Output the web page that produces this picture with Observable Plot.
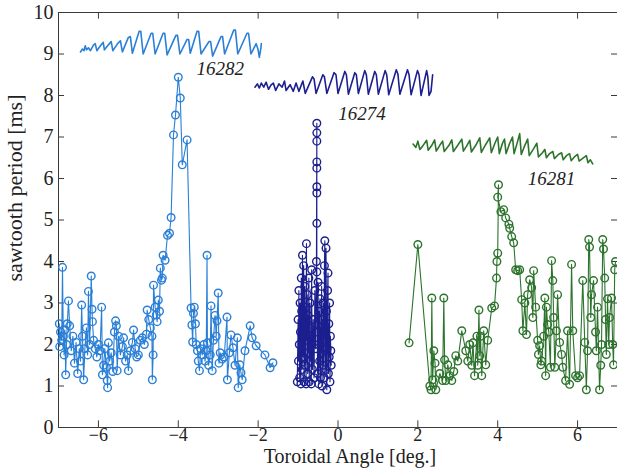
<!DOCTYPE html>
<html>
<head>
<meta charset="utf-8">
<script src="https://cdn.jsdelivr.net/npm/d3@7"></script>
<script src="https://cdn.jsdelivr.net/npm/@observablehq/plot@0.6"></script>
<style>
  html, body { margin: 0; padding: 0; background: #fff; }
</style>
</head>
<body>
<div id="chart"></div>
<script>
// ---- Data (toroidal angle [deg], sawtooth period [ms]) ----
const xTicks = [-6, -4, -2, 0, 2, 4, 6];
const yTicks = [0, 1, 2, 3, 4, 5, 6, 7, 8, 9, 10];
const xLabel = "Toroidal Angle [deg.]";
const yLabel = "sawtooth period [ms]";

const run16282 = [
  [-6.98,2.5],[-6.97,1.95],[-6.95,2.3],[-6.92,2.1],[-6.9,3.86],[-6.88,2.2],[-6.86,1.75],[-6.84,2.35],
  [-6.82,1.27],[-6.8,2.0],[-6.78,2.5],[-6.75,3.05],[-6.72,2.45],[-6.68,1.85],[-6.64,2.2],[-6.6,1.55],
  [-6.56,2.05],[-6.52,1.3],[-6.48,1.9],[-6.45,1.6],[-6.42,2.95],[-6.4,2.2],[-6.37,1.15],[-6.34,1.9],
  [-6.3,2.4],[-6.27,1.75],[-6.25,3.28],[-6.22,2.0],[-6.18,3.65],[-6.16,2.85],[-6.15,2.55],[-6.12,2.1],
  [-6.08,1.9],[-6.04,1.7],[-6.0,2.0],[-5.96,1.85],[-5.92,2.9],[-5.9,1.27],[-5.87,1.5],[-5.84,1.9],
  [-5.8,1.45],[-5.78,1.13],[-5.77,0.96],[-5.75,2.04],[-5.72,1.6],[-5.68,1.8],[-5.64,1.35],[-5.6,2.3],
  [-5.57,2.57],[-5.55,2.45],[-5.53,1.37],[-5.5,2.2],[-5.45,1.75],[-5.4,1.95],[-5.37,2.16],[-5.32,1.6],
  [-5.28,1.75],[-5.25,1.37],[-5.2,1.85],[-5.15,2.05],[-5.12,2.35],[-5.08,1.9],[-5.04,1.7],[-5.0,1.75],
  [-4.95,2.1],[-4.9,2.16],[-4.85,2.0],[-4.8,2.25],[-4.78,2.83],[-4.74,2.6],[-4.7,2.4],[-4.66,2.2],
  [-4.65,1.15],[-4.63,1.75],[-4.62,3.43],[-4.58,2.9],[-4.55,2.71],[-4.53,2.55],[-4.5,3.07],[-4.47,2.8],
  [-4.45,3.84],[-4.42,3.55],[-4.4,3.6],[-4.38,4.15],[-4.33,4.03],[-4.27,4.63],[-4.22,4.68],[-4.18,5.06],
  [-4.12,7.05],[-4.07,7.53],[-4.0,8.44],[-3.95,7.94],[-3.9,6.33],[-3.78,6.93],[-3.68,2.88],[-3.66,2.47],
  [-3.64,2.06],[-3.62,2.75],[-3.6,2.9],[-3.57,2.5],[-3.55,2.0],[-3.52,1.85],[-3.5,1.6],[-3.47,1.37],
  [-3.44,1.9],[-3.4,1.75],[-3.36,2.0],[-3.33,1.6],[-3.3,1.85],[-3.28,4.15],[-3.27,2.04],[-3.24,1.5],
  [-3.2,1.75],[-3.18,2.93],[-3.15,1.37],[-3.12,2.1],[-3.08,2.7],[-3.05,2.2],[-3.03,2.57],[-3.0,3.24],
  [-2.98,1.55],[-2.95,1.8],[-2.9,1.65],[-2.85,1.7],[-2.78,2.66],[-2.77,1.15],[-2.72,1.8],[-2.68,2.23],
  [-2.63,1.92],[-2.58,1.5],[-2.52,2.16],[-2.5,0.96],[-2.46,1.51],[-2.43,1.32],[-2.4,1.15],[-2.33,1.85],
  [-2.2,2.45],[-2.15,2.16],[-2.05,1.97],[-1.83,1.75],[-1.7,1.44],[-1.63,1.56]
];

const run16274 = [
  [-1.02,1.1],[-1.0,2.6],[-0.99,1.6],[-0.98,3.3],[-0.97,2.0],[-0.96,1.2],[-0.95,3.0],[-0.94,2.3],
  [-0.93,1.05],[-0.92,3.6],[-0.91,2.8],[-0.9,1.4],[-0.89,4.15],[-0.88,2.2],[-0.87,1.7],[-0.86,3.9],
  [-0.85,1.1],[-0.84,2.5],[-0.83,3.4],[-0.82,1.5],[-0.81,2.9],[-0.8,1.05],[-0.79,4.43],[-0.78,2.1],
  [-0.77,3.2],[-0.76,1.3],[-0.75,2.7],[-0.74,1.8],[-0.73,3.6],[-0.72,1.1],[-0.71,2.4],[-0.7,3.0],
  [-0.69,1.6],[-0.68,2.2],[-0.67,1.05],[-0.66,3.8],[-0.65,2.0],[-0.64,1.4],[-0.62,2.6],[-0.6,1.2],
  [-0.58,3.3],[-0.56,1.9],[-0.54,4.0],[-0.53,7.33],[-0.53,7.1],[-0.53,6.9],[-0.53,6.4],[-0.53,6.25],
  [-0.53,5.8],[-0.53,5.65],[-0.53,4.92],[-0.53,3.75],[-0.52,2.3],[-0.51,1.3],[-0.5,3.5],[-0.49,2.0],
  [-0.48,1.05],[-0.47,2.8],[-0.46,1.6],[-0.45,3.1],[-0.44,1.2],[-0.43,2.4],[-0.42,1.8],[-0.41,3.4],
  [-0.4,1.0],[-0.39,2.6],[-0.38,1.5],[-0.37,3.0],[-0.36,2.1],[-0.35,1.2],[-0.34,3.9],[-0.33,4.5],
  [-0.32,2.3],[-0.31,1.4],[-0.3,4.32],[-0.29,2.8],[-0.28,0.91],[-0.27,1.9],[-0.26,3.3],[-0.25,3.72],
  [-0.24,1.3],[-0.23,2.5],[-0.22,1.7],[-0.21,3.0],[-0.2,1.1],[-0.19,2.2],[-0.18,1.85],[-0.17,1.5]
];

const run16281 = [
  [1.78,2.04],[2.0,4.41],[2.3,1.0],[2.33,0.91],[2.35,3.12],[2.37,1.15],[2.4,1.85],[2.43,1.55],
  [2.45,0.91],[2.55,1.3],[2.62,1.13],[2.65,3.12],[2.67,1.63],[2.7,1.13],[2.75,1.51],[2.8,1.25],
  [2.85,1.13],[2.9,1.35],[2.95,1.73],[3.0,1.6],[3.1,2.33],[3.2,1.85],[3.25,1.6],[3.3,2.0],
  [3.35,1.5],[3.38,2.04],[3.42,1.25],[3.48,2.2],[3.5,1.5],[3.53,2.83],[3.55,1.73],[3.57,2.2],
  [3.6,1.25],[3.65,2.33],[3.7,1.51],[3.75,2.1],[3.85,2.88],[3.92,2.93],[3.97,3.6],[3.98,4.0],
  [4.0,4.2],[4.02,5.85],[4.0,5.55],[4.08,5.2],[4.15,5.25],[4.2,5.05],[4.28,4.9],[4.3,4.8],
  [4.35,4.6],[4.4,4.45],[4.45,3.8],[4.5,3.78],[4.55,3.8],[4.6,3.08],[4.63,2.33],[4.68,3.0],
  [4.72,2.24],[4.75,3.2],[4.8,3.56],[4.85,3.37],[4.88,2.65],[4.9,3.78],[4.95,2.9],[5.0,2.1],
  [5.02,1.76],[5.05,1.97],[5.08,1.51],[5.1,1.6],[5.15,2.2],[5.18,3.12],[5.2,1.25],[5.22,2.9],
  [5.25,2.48],[5.28,2.3],[5.32,1.45],[5.35,4.02],[5.38,3.54],[5.4,2.65],[5.43,1.45],[5.47,2.33],
  [5.5,3.2],[5.55,2.05],[5.6,1.76],[5.63,1.45],[5.7,1.13],[5.75,2.33],[5.8,1.04],[5.85,3.93],
  [5.88,2.33],[5.95,1.25],[6.0,1.2],[6.05,1.25],[6.13,3.54],[6.18,2.05],[6.22,0.91],[6.25,1.85],
  [6.28,4.53],[6.3,4.35],[6.33,2.65],[6.35,3.2],[6.4,3.54],[6.45,2.3],[6.47,1.85],[6.5,2.9],
  [6.55,0.91],[6.58,1.5],[6.6,2.0],[6.63,4.53],[6.65,4.3],[6.68,3.6],[6.7,2.6],[6.72,1.76],
  [6.75,3.1],[6.78,2.0],[6.8,2.65],[6.85,3.12],[6.88,2.0],[6.9,1.51],[6.93,3.8],[6.95,4.0]
];

// Inset sawtooth traces, drawn in the plot's own coordinates
const trace16282 = [
  [-6.45,9.05],[-6.4,9.12],[-6.36,9.08],[-6.33,9.2],[-6.3,9.1],[-6.25,9.15],[-6.2,9.08],[-6.12,9.22],
  [-6.08,9.25],[-6.04,9.08],[-5.95,9.2],[-5.88,9.28],[-5.85,9.1],[-5.75,9.22],[-5.68,9.3],[-5.64,9.08],
  [-5.52,9.25],[-5.45,9.32],[-5.4,9.05],[-5.25,9.4],[-5.2,9.42],[-5.15,9.02],[-4.98,9.55],[-4.94,9.55],
  [-4.88,9.0],[-4.68,9.5],[-4.64,9.5],[-4.58,9.0],[-4.38,9.5],[-4.34,9.5],[-4.28,8.98],[-4.06,9.45],
  [-4.02,9.45],[-3.96,9.0],[-3.78,9.35],[-3.74,9.35],[-3.7,9.02],[-3.53,9.55],[-3.49,9.55],[-3.43,9.0],
  [-3.23,9.3],[-3.19,9.3],[-3.14,8.95],[-2.93,9.42],[-2.89,9.42],[-2.84,9.0],[-2.61,9.58],[-2.57,9.58],
  [-2.51,9.0],[-2.28,9.5],[-2.24,9.5],[-2.18,9.0],[-2.05,9.25],[-2.0,9.1],[-1.97,8.92],[-1.93,9.15],[-1.92,9.25]
];
const trace16274 = [
  [-2.08,8.2],[-2.02,8.28],[-1.97,8.18],[-1.92,8.3],[-1.86,8.2],[-1.8,8.32],[-1.74,8.15],[-1.68,8.25],
  [-1.62,8.3],[-1.56,8.12],[-1.48,8.28],[-1.4,8.2],[-1.34,8.35],[-1.3,8.12],[-1.2,8.26],[-1.12,8.1],
  [-1.05,8.3],[-0.98,8.1],[-0.88,8.35],[-0.82,8.05],[-0.64,8.45],[-0.6,8.4],[-0.55,8.05],[-0.38,8.5],
  [-0.34,8.45],[-0.28,8.05],[-0.1,8.55],[-0.05,8.5],[0.0,8.05],[0.17,8.58],[0.21,8.5],[0.26,8.03],
  [0.42,8.55],[0.46,8.5],[0.51,8.05],[0.67,8.6],[0.71,8.5],[0.76,8.03],[0.92,8.58],[0.96,8.5],
  [1.01,8.03],[1.18,8.6],[1.22,8.5],[1.27,8.02],[1.46,8.62],[1.5,8.52],[1.55,8.03],[1.74,8.62],
  [1.78,8.5],[1.83,8.02],[1.99,8.6],[2.03,8.5],[2.08,8.0],[2.22,8.6],[2.25,8.45],[2.28,8.0],[2.33,8.1],[2.37,8.5]
];
const trace16281 = [
  [1.88,6.83],[1.95,6.75],[2.0,6.9],[2.05,6.7],[2.12,6.78],[2.22,6.92],[2.26,6.68],[2.35,6.8],
  [2.42,6.93],[2.46,6.66],[2.55,6.8],[2.62,6.9],[2.66,6.65],[2.78,6.8],[2.85,6.93],[2.89,6.65],
  [3.0,6.8],[3.1,6.95],[3.14,6.66],[3.22,6.78],[3.3,6.92],[3.34,6.64],[3.45,6.8],[3.55,6.98],
  [3.59,6.63],[3.7,6.82],[3.8,6.98],[3.84,6.62],[3.93,6.85],[4.0,7.0],[4.04,6.6],[4.12,6.85],
  [4.17,6.95],[4.21,6.6],[4.3,6.85],[4.37,7.0],[4.41,6.6],[4.5,6.9],[4.55,7.08],[4.59,6.58],
  [4.68,6.8],[4.75,6.95],[4.79,6.55],[4.9,6.72],[4.98,6.85],[5.02,6.52],[5.12,6.62],[5.18,6.7],
  [5.22,6.5],[5.3,6.6],[5.38,6.65],[5.42,6.48],[5.52,6.58],[5.6,6.62],[5.64,6.45],[5.72,6.55],
  [5.8,6.6],[5.84,6.43],[5.92,6.52],[6.0,6.58],[6.04,6.42],[6.12,6.48],[6.22,6.55],[6.26,6.38],
  [6.32,6.45],[6.38,6.35]
];

const runNames = ["16282", "16274", "16281"];
const runLabelX = [-2.95, 0.6, 5.35];
const runLabelY = [8.65, 7.55, 6.0];

// ---- Styles ----
const colors = {"16282": "#2a7fd6", "16274": "#1b1f8f", "16281": "#2c742c"};
const axisColor = "#3a3a3a";
const textColor = "#222";
const font = "Liberation Serif";

const series = [
  {name: "16282", pts: run16282, trace: trace16282},
  {name: "16274", pts: run16274, trace: trace16274},
  {name: "16281", pts: run16281, trace: trace16281}
];
const labels = runNames.map((n, i) => ({name: n, x: runLabelX[i], y: runLabelY[i]}));
const fmt = d => (d < 0 ? "\u2212" + Math.abs(d) : String(d));

const marks = [
  Plot.frame({stroke: axisColor, strokeWidth: 1}),
  Plot.ruleX(xTicks, {x: d => d, y1: 0, y2: 0.16, stroke: axisColor}),
  Plot.ruleX(xTicks, {x: d => d, y1: 10, y2: 9.84, stroke: axisColor}),
  Plot.ruleY(yTicks, {y: d => d, x1: -7, x2: -6.85, stroke: axisColor}),
  Plot.ruleY(yTicks, {y: d => d, x1: 6.85, x2: 7, stroke: axisColor}),
  // tick labels
  Plot.text(xTicks, {x: d => d, frameAnchor: "bottom", lineAnchor: "top", dy: 1, text: fmt,
    fontSize: 18, fontFamily: font, fill: textColor}),
  Plot.text(yTicks, {y: d => d, frameAnchor: "left", textAnchor: "end", dx: -5, text: fmt,
    fontSize: 20, fontFamily: font, fill: textColor}),
  // axis titles
  Plot.text([xLabel], {frameAnchor: "bottom", textAnchor: "middle", lineAnchor: "middle", dx: 12, dy: 29,
    fontSize: 20, fontFamily: font, fill: textColor, text: d => d}),
  Plot.text([yLabel], {frameAnchor: "left", textAnchor: "middle", dx: -44, dy: -32, rotate: -90,
    fontSize: 22, fontFamily: font, fill: textColor, text: d => d})
];
for (const s of series) {
  const c = colors[s.name];
  marks.push(Plot.line(s.pts, {x: d => d[0], y: d => d[1], stroke: c, strokeWidth: 1.1}));
  marks.push(Plot.dot(s.pts, {x: d => d[0], y: d => d[1], r: 3.8, stroke: c, fill: "none", strokeWidth: 1.4}));
  marks.push(Plot.line(s.trace, {x: d => d[0], y: d => d[1], stroke: c, strokeWidth: 1.6}));
}
marks.push(Plot.text(labels, {x: "x", y: "y", text: "name", fontSize: 19, fontStyle: "italic", fontFamily: font, fill: textColor}));

const chart = Plot.plot({
  width: 617,
  height: 468,
  marginLeft: 58,
  marginRight: 0,
  marginTop: 12,
  marginBottom: 41,
  x: {domain: [-7, 7], axis: null},
  y: {domain: [0, 10], axis: null},
  style: {fontFamily: font, background: "#fff", overflow: "visible"},
  marks
});
document.getElementById("chart").appendChild(chart);
</script>
</body>
</html>
